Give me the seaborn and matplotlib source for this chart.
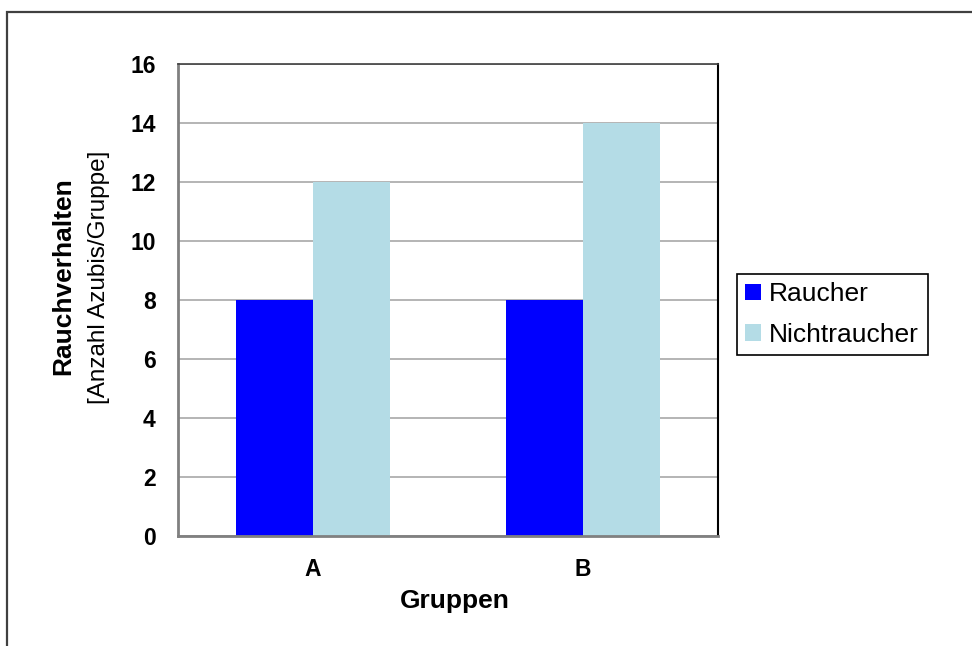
import matplotlib
matplotlib.use("Agg")
import matplotlib.pyplot as plt
from matplotlib.patches import Rectangle
import pandas as pd
import seaborn as sns

# Data
gruppen = ["A", "B"]
raucher = [8, 8]
nichtraucher = [12, 14]
serien = ["Raucher", "Nichtraucher"]
y_ticks = [0, 2, 4, 6, 8, 10, 12, 14, 16]

df = pd.DataFrame({
    "Gruppe": gruppen * 2,
    "Serie": [serien[0]] * len(gruppen) + [serien[1]] * len(gruppen),
    "Anzahl": raucher + nichtraucher,
})

sns.set_theme(style="white")
plt.rcParams["font.family"] = ["Liberation Sans", "DejaVu Sans"]
plt.rcParams["text.color"] = "black"
plt.rcParams["xtick.labelcolor"] = "black"
plt.rcParams["ytick.labelcolor"] = "black"

W, H = 972, 646
fig = plt.figure(figsize=(W / 100, H / 100), dpi=100)
fig.patch.set_facecolor("white")

# plot area in pixel coordinates
left, right, top, bottom = 178, 718, 64, 536
ax = fig.add_axes([left / W, 1 - bottom / H, (right - left) / W, (bottom - top) / H])

sns.barplot(
    data=df, x="Gruppe", y="Anzahl", hue="Serie", order=gruppen, hue_order=serien,
    palette={"Raucher": "#0000FF", "Nichtraucher": "#B4DCE6"},
    width=0.57, saturation=1, linewidth=0, errorbar=None, ax=ax, legend=True,
)

ax.set_ylim(0, 16)
ax.set_xlim(-0.5, 1.5)
ax.set_yticks(y_ticks)
ax.set_yticklabels([str(v) for v in y_ticks], fontsize=16.5, fontweight="bold", color="black")
ax.set_xticks([0, 1])
ax.set_xticklabels(gruppen, fontsize=16.5, fontweight="bold", color="black")

# ticks between categories on the x axis
ax.set_xticks([-0.5, 0.5, 1.5], minor=True)
ax.tick_params(axis="x", which="major", length=0, pad=16)
ax.tick_params(axis="x", which="minor", length=6, width=1.2, color="#808080", direction="out")
ax.tick_params(axis="y", which="major", length=6, width=1.2, color="#808080", direction="out", pad=10)

ax.yaxis.grid(True, color="#A0A0A0", linewidth=1.1)
ax.set_axisbelow(True)

for side in ["left", "bottom"]:
    ax.spines[side].set_visible(True)
    ax.spines[side].set_color("#808080")
    ax.spines[side].set_linewidth(2)
ax.spines["right"].set_visible(True)
ax.spines["right"].set_color("black")
ax.spines["right"].set_linewidth(1.5)
ax.spines["top"].set_visible(True)
ax.spines["top"].set_color("#404040")
ax.spines["top"].set_linewidth(1.2)

ax.set_xlabel("")
ax.set_ylabel("")
fig.text(455 / W, 1 - 601 / H, "Gruppen", ha="center", va="center",
         fontsize=19, fontweight="bold", color="black")
fig.text(63 / W, 1 - 276 / H, "Rauchverhalten", ha="center", va="center",
         rotation=90, fontsize=19, fontweight="bold", color="black")
fig.text(99 / W, 1 - 277 / H, "[Anzahl Azubis/Gruppe]", ha="center", va="center",
         rotation=90, fontsize=17.5, color="black")

handles, labels = ax.get_legend_handles_labels()
ax.get_legend().remove()
leg = fig.legend(
    handles, labels, loc="center left", bbox_to_anchor=(737 / W, 1 - 314.5 / H),
    frameon=True, fancybox=False, framealpha=1, edgecolor="black",
    fontsize=19, handlelength=0.6, handleheight=0.6, handletextpad=0.3,
    labelspacing=0.62, borderpad=0.32, borderaxespad=0,
)
leg.get_frame().set_linewidth(1.2)
for t in leg.get_texts():
    t.set_color("black")

# outer chart border
fig.add_artist(Rectangle((7 / W, -0.5), 2.0, 1.5 - 12 / H, transform=fig.transFigure,
                         fill=False, edgecolor="#404040", linewidth=1.6))

fig.savefig("out.png", dpi=100, facecolor="white")
